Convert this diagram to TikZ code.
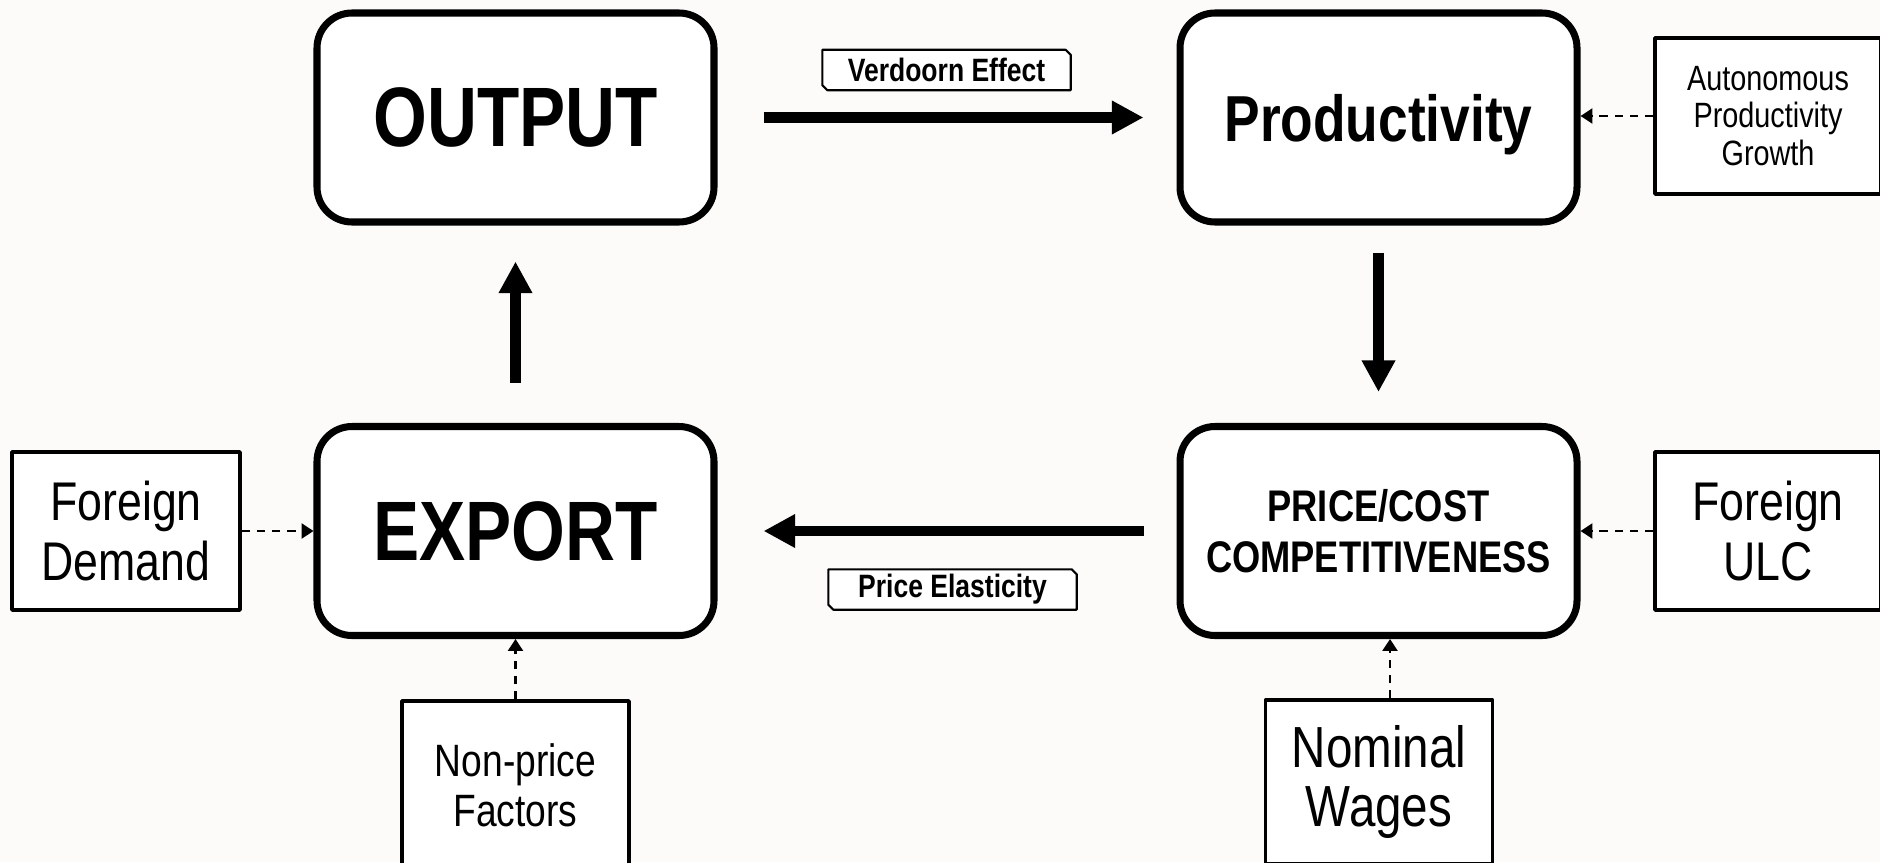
\documentclass[tikz,border=0pt]{standalone}
\usepackage{fontspec}
\setmainfont{Liberation Sans}[FakeStretch=0.82]
\usetikzlibrary{arrows.meta}
\definecolor{paper}{RGB}{252,251,250}
\begin{document}
\begin{tikzpicture}[line join=round,
	mainbox/.style={draw, line width=2pt, rounded corners=0.35cm, fill=white, minimum width=3.97cm, minimum height=2.09cm, align=center, inner sep=0pt},
	sidebox/.style={draw, line width=1pt, fill=white, align=center, inner sep=0pt},
	tag/.style={fill=white, minimum width=2.47cm, minimum height=0.39cm, inner sep=0pt, font=\fontsize{9.2pt}{11pt}\selectfont\bfseries},
	bigarrow/.style={line width=3pt, -{Triangle[width=9pt,length=9pt]}},
	thinarrow/.style={line width=0.6pt, dash pattern=on 2.4pt off 1.9pt, -{Triangle[width=4.3pt,length=3.4pt]}}]
	\def\W{18.8} \def\H{8.62} % page size
	\def\cut{0.05} % chamfer of the tags
	\useasboundingbox (0,0) rectangle (\W,\H);
	\clip (0,0) rectangle (\W,\H);
	\fill[paper] (0,0) rectangle (\W,\H);
	% main loop
	\node[mainbox, font=\fontsize{24pt}{28pt}\selectfont\bfseries] (output) at (5.155,7.445) {OUTPUT};
	\node[mainbox, text depth=0pt, font=\fontsize{18.5pt}{22pt}\selectfont\bfseries] (prod) at (13.785,7.445) {Productivity};
	\node[mainbox, font=\fontsize{24pt}{28pt}\selectfont\bfseries] (export) at (5.155,3.31) {EXPORT};
	\node[mainbox, font=\fontsize{12.6pt}{14.7pt}\selectfont\bfseries] (price) at (13.785,3.31) {PRICE/COST\\COMPETITIVENESS};
	% outside factors
	\node[sidebox, minimum width=2.26cm, minimum height=1.56cm, font=\fontsize{10pt}{10.6pt}\selectfont] (auto) at (17.68,7.46) {Autonomous\\Productivity\\Growth};
	\node[sidebox, minimum width=2.28cm, minimum height=1.58cm, font=\fontsize{15.5pt}{17.1pt}\selectfont] (fdem) at (1.26,3.31) {Foreign\\Demand};
	\node[sidebox, minimum width=2.26cm, minimum height=1.58cm, font=\fontsize{15.5pt}{17.1pt}\selectfont] (fulc) at (17.68,3.31) {Foreign\\ULC};
	\node[sidebox, minimum width=2.27cm, minimum height=1.68cm, font=\fontsize{12.9pt}{14.3pt}\selectfont] (nonprice) at (5.155,0.77) {Non-price\\Factors};
	\node[sidebox, minimum width=2.27cm, minimum height=1.64cm, font=\fontsize{16.5pt}{16.8pt}\selectfont] (wages) at (13.79,0.80) {Nominal\\Wages};
	% labels
	\node[tag] (verdoorn) at (9.465,7.92) {Verdoorn Effect};
	\node[tag] (elast) at (9.525,2.725) {Price Elasticity};
	\foreach \t in {verdoorn,elast}
		\draw[line width=0.6pt] (\t.north west) -- ([xshift=-\cut cm]\t.north east) -- ([yshift=-\cut cm]\t.north east) -- (\t.south east) -- ([xshift=\cut cm]\t.south west) -- ([yshift=\cut cm]\t.south west) -- cycle;
	% arrows
	\draw[bigarrow, shorten <=0.46cm, shorten >=0.33cm] (output) -- (prod);
	\draw[bigarrow, shorten <=0.27cm, shorten >=0.31cm] (prod) -- (price);
	\draw[bigarrow, shorten <=0.33cm, shorten >=0.46cm] (price) -- (export);
	\draw[bigarrow, shorten <=0.40cm, shorten >=0.36cm] (export) -- (output);
	\draw[thinarrow] (auto.west) -- (auto.west -| prod.east);
	\draw[thinarrow] (fdem) -- (export);
	\draw[thinarrow] (fulc) -- (price);
	\draw[thinarrow] (nonprice) -- (export);
	\draw[thinarrow] ([xshift=0.11cm]wages.north) -- ([xshift=0.11cm]wages.north |- price.south);
\end{tikzpicture}
\end{document}
